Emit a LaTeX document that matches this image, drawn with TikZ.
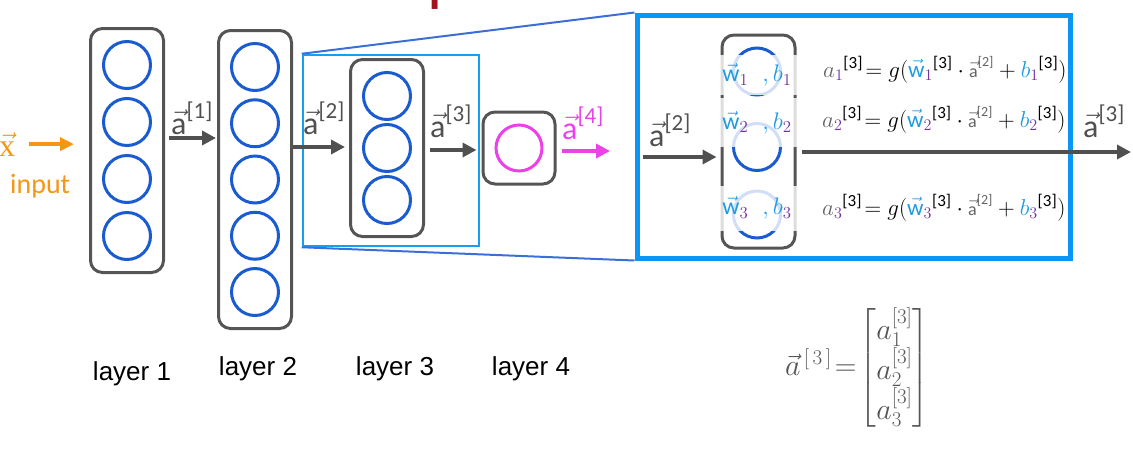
\RequirePackage{fix-cm}
\documentclass[tikz,border=0pt]{standalone}
\usepackage{amsmath}
\usepackage{fontspec}
\setmainfont{Carlito}
\newfontfamily\layerfont{Liberation Sans}
\newfontfamily\seriffont{Liberation Serif}
\usetikzlibrary{arrows.meta}
\usetikzlibrary{positioning}
\usetikzlibrary{fit}

\definecolor{boxgray}{RGB}{85,85,85}
\definecolor{flowgray}{RGB}{80,80,80}
\definecolor{unitblue}{RGB}{26,91,208}
\definecolor{srcblue}{RGB}{20,160,240}
\definecolor{dstblue}{RGB}{10,150,245}
\definecolor{lineblue}{RGB}{60,110,215}
\definecolor{inorange}{RGB}{245,150,20}
\definecolor{outmag}{RGB}{235,65,235}
\definecolor{wblue}{RGB}{30,155,225}
\definecolor{subpurple}{RGB}{112,48,160}
\definecolor{eqgray}{RGB}{100,100,100}
\definecolor{titlered}{RGB}{160,20,30}

\newcommand\fs[2]{\text{\fontsize{#1}{#1}\selectfont#2}}
\newcommand\avec[1]{$\vec{\text{a}}^{\fs{23}{[#1]}}$}
\newcommand\wbrow[1]{${\color{wblue}\vec{\text{w}}}_{\color{subpurple}#1}$\hspace{14pt}${\color{wblue},b}_{\color{subpurple}#1}$}
\newcommand\eqrow[1]{$\color{eqgray}a_{\color{subpurple}#1}^{\color{black}\fs{17}{[3]}}
  \color{black}\!= g({\color{wblue}\vec{\text{w}}}_{\color{subpurple}#1}^{\fs{17}{[3]}}
  \cdot{\color{eqgray}\vec{\fs{18}{a}}^{\fs{14}{[2]}}}
  + {\color{wblue}b}_{\color{subpurple}#1}^{\fs{17}{[3]}})$}

\tikzset{
  neuron/.style={circle, draw=unitblue, line width=3pt, minimum size=47pt, inner sep=0pt},
  layerbox/.style={draw=boxgray, line width=3pt, rounded corners=12pt, inner sep=11.5pt},
  flow/.style={draw=flowgray, line width=4.5pt, -{Triangle[length=14pt,width=14pt]}},
  vlab/.style={text=flowgray, font=\fontsize{32}{34}\selectfont, inner sep=0pt, anchor=base west},
  layername/.style={font=\layerfont\fontsize{26}{28}\selectfont, inner sep=0pt, anchor=base},
  cover/.style={fill=white, fill opacity=.8, text opacity=1, inner sep=0pt, minimum width=85pt,
    font=\fontsize{24}{26}\selectfont},
  eqn/.style={font=\fontsize{23}{25}\selectfont, inner sep=0pt, anchor=base west}
}

\begin{document}
\begin{tikzpicture}[x=1pt,y=-1pt]
    \clip (0,0) rectangle (1133,448);
    \node[anchor=base west, inner sep=0pt, text=titlered, font=\fontsize{68}{70}\selectfont]
      (title) at (143,-2) {More complex neural network};

    % Units
    \foreach \i in {1,...,4} \node[neuron] (l1u\i) at (127,8+57*\i) {};
    \foreach \i in {1,...,5} \node[neuron] (l2u\i) at (255,10.75+56.25*\i) {};
    \foreach \i in {1,2,3} \node[neuron] (l3u\i) at (387,44+52*\i) {};
    \node[neuron, draw=outmag, minimum size=46pt] (l4u1) at (519,148) {};

    % Layers
    \node[layerbox, fit=(l1u1)(l1u4)] (l1) {};
    \node[layerbox, fit=(l2u1)(l2u5)] (l2) {};
    \node[layerbox, fit=(l3u1)(l3u3)] (l3) {};
    \node[layerbox, fit=(l4u1)] (l4) {};

    % Zoom
    \node[draw=srcblue, line width=2.5pt, inner sep=0pt, minimum width=176pt, minimum height=191pt]
      (zsrc) at (391,150.5) {};
    \node[draw=dstblue, line width=5pt, inner sep=0pt, minimum width=433pt, minimum height=243pt]
      (zdst) at (853.5,136.5) {};
    \draw[lineblue, line width=2pt] (zsrc.north west) -- (zdst.north west);
    \draw[lineblue, line width=2pt] (zsrc.south west) -- (zdst.south west);

    \node[neuron] (zu1) at (757,71.5) {};
    \node[neuron] (zu2) at (757,147) {};
    \node[neuron] (zu3) at (757,214.5) {};
    \node[layerbox, inner sep=0pt, minimum width=73pt, minimum height=213pt] (zl) at (758.5,141.5) {};
    \node[cover, minimum height=40pt] (wb1) at (757,75) {\wbrow{1}};
    \node[cover, minimum height=49pt] (wb2) at (757,122.5) {\wbrow{2}};
    \node[cover, minimum height=45pt] (wb3) at (757,208) {\wbrow{3}};

    \node[eqn] (eq1) at (823,77) {\eqrow{1}};
    \node[eqn] (eq2) at (822,127) {\eqrow{2}};
    \node[eqn] (eq3) at (822,215) {\eqrow{3}};

    % Edges
    \node[anchor=base west, inner sep=0pt, text=inorange, font=\fontsize{32}{34}\selectfont]
      (xlab) at (-1,156) {$\vec{\text{\seriffont x}}$};
    \node[anchor=base west, inner sep=0pt, text=inorange, font=\fontsize{28}{30}\selectfont]
      (inlab) at (10,193) {input};
    \draw[inorange, line width=3.5pt, -{Triangle[length=14pt,width=13pt]}, shorten <=14pt, shorten >=15pt]
      (xlab.east) -- (xlab.east -| l1.west);

    \draw[flow, shorten <=4pt, shorten >=1pt] (l1.east |- 0,138) -- (l2.west |- 0,138);
    \draw[flow, shorten >=4pt] (l2.east |- 0,147) -- (l3.west |- 0,147);
    \draw[flow, shorten <=5pt, shorten >=5pt] (l3.east |- 0,150) -- (l4.west |- 0,150);
    \coordinate (a4end) at (610,151);
    \draw[outmag, line width=4.5pt, -{Triangle[length=14pt,width=14pt]}, shorten <=5pt]
      (l4.east |- a4end) -- (a4end);
    \draw[flow, shorten <=8pt, shorten >=4pt] (zdst.west |- 0,157) -- (zl.west |- 0,157);
    \coordinate (zout) at (1131,152);
    \draw[flow, shorten <=5pt] (zl.east |- zout) -- (zout);

    \node[vlab] (a1) at (171,134) {\avec{1}};
    \node[vlab] (a2) at (303,134) {\avec{2}};
    \node[vlab] (a3) at (430,137) {\avec{3}};
    \node[vlab, text=outmag] (a4) at (562,139) {\avec{4}};
    \node[vlab] (za2) at (649,146) {\avec{2}};
    \node[vlab] (za3) at (1083,137) {\avec{3}};

    % Layer names
    \node[layername] (n1) at (132,380) {layer 1};
    \node[layername] (n2) at (258,375) {layer 2};
    \node[layername] (n3) at (395,375) {layer 3};
    \node[layername] (n4) at (531,375) {layer 4};

    \node[text=boxgray, font=\fontsize{30}{36}\selectfont] (a3vec) at (857,368)
      {\renewcommand\arraystretch{0.8}$\vec{a}^{\,[\,3\,]}\!=\!\begin{bmatrix}a_1^{[3]}\\a_2^{[3]}\\a_3^{[3]}\end{bmatrix}$};
\end{tikzpicture}
\end{document}
